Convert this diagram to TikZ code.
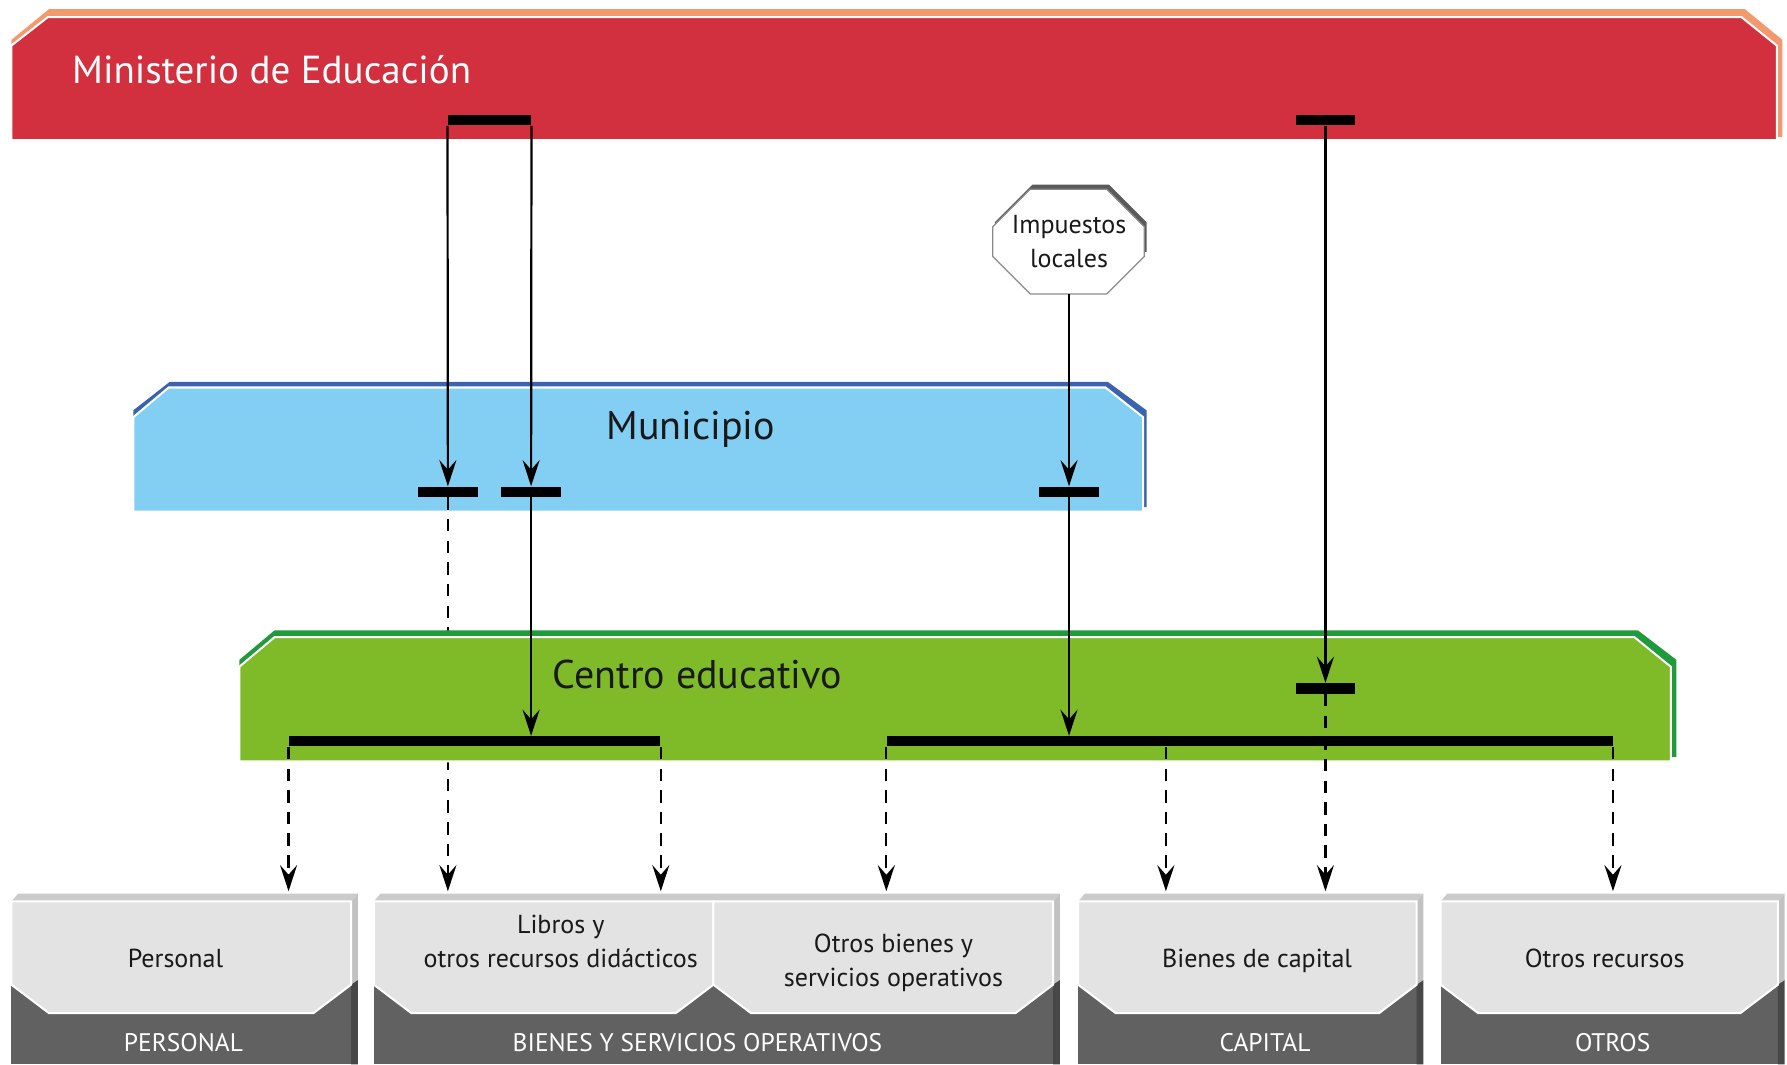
\documentclass[tikz,border=0pt]{standalone}
\usepackage{fontspec}
\setmainfont{PT Sans}
\usepackage{xcolor}
\usepackage{tikz}
\usetikzlibrary{positioning, arrows.meta, calc}

\definecolor{minred}{HTML}{D2303F}
\definecolor{minorange}{HTML}{F29A6E}
\definecolor{munblue}{HTML}{83CFF4}
\definecolor{mundark}{HTML}{3A62AE}
\definecolor{cegreen}{HTML}{7FBA28}
\definecolor{cedark}{HTML}{1F9A3C}
\definecolor{boxface}{HTML}{E3E3E3}
\definecolor{boxdark}{HTML}{616161}
\definecolor{boxtop}{HTML}{CBCBCB}
\definecolor{boxside}{HTML}{C2C2C2}
\definecolor{boxsidedark}{HTML}{474747}
\definecolor{impdark}{HTML}{5A5A5A}
\definecolor{impedge}{HTML}{8A8A8A}

\begin{document}
\begin{tikzpicture}[
    x=0.02cm, y=-0.02cm,
    >={Stealth[length=0.46cm, width=0.3cm, inset=0.17cm]},
    band_title/.style={inner sep=0, font=\fontsize{20}{24}\selectfont, text=black!90},
    box_text/.style={inner sep=0, align=center, font=\fontsize{13}{17}\selectfont, text=black!90},
    cat_label/.style={inner sep=0, anchor=base, font=\fontsize{12.7}{16}\selectfont, text=white},
    bar/.style={fill=black, inner sep=0, minimum height=0.18cm},
    flow/.style={->, line width=1.1pt},
    dash_flow/.style={->, line width=1.1pt, dash pattern=on 0.22cm off 0.16cm},
    box_face/.style={fill=boxface, draw=white, line width=1pt}
]
\useasboundingbox (0,0) rectangle (1568,934);

\fill[minorange] (10,35) -- (43,8) -- (1531,8) -- (1564,35) -- (1564,120) -- (10,120) -- cycle;
\filldraw[fill=minred, draw=white, line width=1pt] (10,40) -- (42,15) -- (1528,15) -- (1559,40) -- (1559,123) -- (10,123) -- cycle;
\node[band_title, text=white, anchor=base west, font=\fontsize{19.5}{24}\selectfont] (ministerio) at (63,73) {Ministerio de Educación};

\fill[mundark] (117,360) -- (149,335) -- (972,335) -- (1006,360) -- (1006,445) -- (117,445) -- cycle;
\filldraw[fill=munblue, draw=white, line width=1pt] (117,366) -- (148,340) -- (970,340) -- (1003,366) -- (1003,449) -- (117,449) -- cycle;
\node[band_title, anchor=base] (municipio) at (606,386) {Municipio};

\fill[impdark] (873,195) -- (906,162) -- (973,162) -- (1006,195) -- (1006,221) -- (873,221) -- cycle;
\filldraw[fill=white, draw=impedge, line width=0.6pt] (871,199) -- (904,166) -- (971,166) -- (1004,199) -- (1004,225) -- (971,258) -- (904,258) -- (871,225) -- cycle;
\node[box_text, minimum width=2.66cm, minimum height=1.84cm] (imp) at (938,212) {Impuestos\\locales};

\node[bar, minimum width=1.46cm] (min_bar_l) at (429.5,105.5) {};
\node[bar, minimum width=1.04cm] (min_bar_r) at (1163,105.5) {};
\node[bar, minimum width=1.06cm] (mun_bar_a) at (393,431.5) {};
\node[bar, minimum width=1.06cm] (mun_bar_b) at (466,431.5) {};
\node[bar, minimum width=1.06cm] (mun_bar_c) at (938,431.5) {};
\coordinate (row) at (0,782);
\coordinate (tap) at (1023,782);

\draw[dash_flow] (mun_bar_a.south) -- (mun_bar_a.south |- row);

\fill[cedark] (210,579) -- (241,553) -- (1437,553) -- (1471,579) -- (1471,664) -- (210,664) -- cycle;
\filldraw[fill=cegreen, draw=white, line width=1pt] (210,585) -- (241,559) -- (1434,559) -- (1466,585) -- (1466,668) -- (210,668) -- cycle;
\node[band_title, anchor=base] (centro) at (612,604) {Centro educativo};

\node[bar, minimum width=1.04cm] (ce_bar_s) at (1163,604) {};
\node[bar, minimum width=6.52cm] (ce_left) at (416.5,650.5) {};
\node[bar, minimum width=12.74cm] (ce_right) at (1096.5,650.5) {};

\draw[flow] (min_bar_l.south west) -- (mun_bar_a.north);
\draw[flow] (min_bar_l.south east) -- (mun_bar_b.north);
\draw[flow] (imp.south) -- (mun_bar_c.north);
\draw[flow] (mun_bar_b.south) -- (mun_bar_b.south |- ce_left.north);
\draw[flow] (mun_bar_c.south) -- (mun_bar_c.south |- ce_right.north);
\draw[flow] (min_bar_r.south) -- (ce_bar_s.north);

\draw[dash_flow] (ce_bar_s.south) -- (ce_bar_s.south |- row);
\draw[dash_flow] (ce_left.south west) -- (ce_left.south west |- row);
\draw[dash_flow] (ce_left.south east) -- (ce_left.south east |- row);
\draw[dash_flow] (ce_right.south west) -- (ce_right.south west |- row);
\draw[dash_flow] (tap |- ce_right.south) -- (tap);
\draw[dash_flow] (ce_right.south east) -- (ce_right.south east |- row);

\fill[boxdark] (10,860) rectangle (308,934);
\fill[boxdark] (328,860) rectangle (924,934);
\fill[boxdark] (946,860) rectangle (1243,934);
\fill[boxdark] (1264,860) rectangle (1560,934);

\fill[boxtop] (10,791) -- (16,784) -- (314,784) -- (308,791) -- cycle;
\fill[boxside] (308,791) -- (314,784) -- (314,860) -- (308,864) -- cycle;
\fill[boxsidedark] (308,864) -- (314,860) -- (314,934) -- (308,934) -- cycle;
\filldraw[box_face] (10,791) -- (308,791) -- (308,864) -- (275,889) -- (43,889) -- (10,864) -- cycle;

\fill[boxtop] (328,791) -- (334,784) -- (930,784) -- (924,791) -- cycle;
\fill[boxside] (924,791) -- (930,784) -- (930,860) -- (924,864) -- cycle;
\fill[boxsidedark] (924,864) -- (930,860) -- (930,934) -- (924,934) -- cycle;
\filldraw[box_face] (328,791) -- (626,791) -- (626,864) -- (593,889) -- (361,889) -- (328,864) -- cycle;
\filldraw[box_face] (626,791) -- (924,791) -- (924,864) -- (891,889) -- (659,889) -- (626,864) -- cycle;

\fill[boxtop] (946,791) -- (952,784) -- (1249,784) -- (1243,791) -- cycle;
\fill[boxside] (1243,791) -- (1249,784) -- (1249,860) -- (1243,864) -- cycle;
\fill[boxsidedark] (1243,864) -- (1249,860) -- (1249,934) -- (1243,934) -- cycle;
\filldraw[box_face] (946,791) -- (1243,791) -- (1243,864) -- (1210,889) -- (979,889) -- (946,864) -- cycle;

\fill[boxtop] (1264,791) -- (1270,784) -- (1566,784) -- (1560,791) -- cycle;
\fill[boxside] (1560,791) -- (1566,784) -- (1566,860) -- (1560,864) -- cycle;
\fill[boxsidedark] (1560,864) -- (1566,860) -- (1566,934) -- (1560,934) -- cycle;
\filldraw[box_face] (1264,791) -- (1560,791) -- (1560,864) -- (1527,889) -- (1297,889) -- (1264,864) -- cycle;

\node[box_text, anchor=base] (personal) at (154,849) {Personal};
\node[box_text] (libros) at (492,826) {Libros y\\otros recursos didácticos};
\node[box_text] (otros_bs) at (784,845) {Otros bienes y\\servicios operativos};
\node[box_text, anchor=base] (bienes_cap) at (1103,849) {Bienes de capital};
\node[box_text, anchor=base] (otros_rec) at (1408,849) {Otros recursos};

\node[cat_label] (lbl_personal) at (161,923) {PERSONAL};
\node[cat_label] (lbl_bienes) at (612,923) {BIENES Y SERVICIOS OPERATIVOS};
\node[cat_label] (lbl_capital) at (1110,923) {CAPITAL};
\node[cat_label] (lbl_otros) at (1415,923) {OTROS};
\end{tikzpicture}
\end{document}
